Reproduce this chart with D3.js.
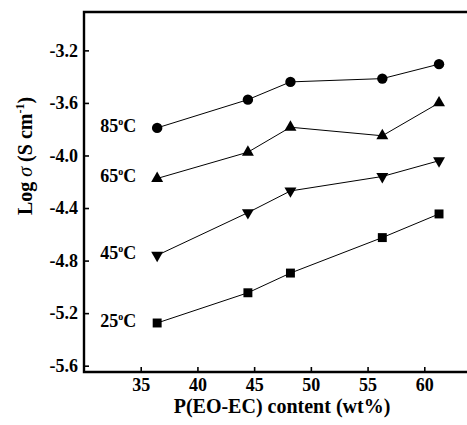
<!DOCTYPE html>
<html>
<head>
<style>
body { margin: 0; background: #fff; }
text { font-family: "Liberation Serif", "Times New Roman", serif; font-weight: bold; }
</style>
</head>
<body>
<svg width="467" height="425"></svg>
<script src="https://d3js.org/d3.v7.min.js"></script>
<script>

// P(EO-EC) content, wt%
let content = [36.45, 44.45, 48.2, 56.3, 61.3];

let temps = ['85', '65', '45', '25'];
let symbols = ['circle', 'triangle', 'down', 'square'];

let logSigma85 = [-3.79, -3.575, -3.44, -3.415, -3.305];
let logSigma65 = [-4.175, -3.975, -3.785, -3.85, -3.60];
let logSigma45 = [-4.76, -4.435, -4.27, -4.16, -4.04];
let logSigma25 = [-5.275, -5.045, -4.895, -4.625, -4.445];

let series = [logSigma85, logSigma65, logSigma45, logSigma25];

let xTicks = [35, 40, 45, 50, 55, 60];
let yTicks = [-3.2, -3.6, -4.0, -4.4, -4.8, -5.2, -5.6];

let pLeft = 84, pTop = 12, pBottom = 372, pRight = 481;

let x = d3.scaleLinear().domain([30, 65]).range([pLeft, pRight]);
let y = d3.scaleLinear().domain([-5.648, -2.908]).range([pBottom, pTop]);

let svg = d3.select('svg');

// frame (top + right edges run off the page)
svg.append('path')
    .attr('d', `M${pLeft},${pBottom}V${pTop}H${pRight}V${pBottom}Z`)
    .attr('fill', 'none')
    .attr('stroke', 'black')
    .attr('stroke-width', 2.4);

let xAxis = svg.append('g')
    .attr('transform', `translate(0,${pBottom})`)
    .call(d3.axisBottom(x).tickValues(xTicks).tickSizeInner(-5).tickSizeOuter(0).tickPadding(6));
xAxis.select('.domain').remove();

let yAxis = svg.append('g')
    .attr('transform', `translate(${pLeft},0)`)
    .call(d3.axisLeft(y).tickValues(yTicks).tickSizeInner(-5).tickSizeOuter(0).tickPadding(6)
        .tickFormat(function(d) { return d.toFixed(1); }));
yAxis.select('.domain').remove();

svg.selectAll('.tick line').attr('stroke-width', 1.6);
svg.selectAll('.tick text')
    .style('font-size', '18px')
    .style('font-family', '"Liberation Serif", serif')
    .style('font-weight', 'bold')
    .attr('fill', 'black');

// lines and markers
let line = d3.line()
    .x(function(d, i) { return x(content[i]); })
    .y(function(d) { return y(d); });

series.forEach(function(vals, k) {
    svg.append('path')
        .datum(vals)
        .attr('d', line)
        .attr('fill', 'none')
        .attr('stroke', 'black')
        .attr('stroke-width', 1);

    let kind = symbols[k];
    let sym = kind == 'circle' ? d3.symbol(d3.symbolCircle, 85)
            : kind == 'square' ? d3.symbol(d3.symbolSquare, 80)
            : d3.symbol(d3.symbolTriangle, 62);

    svg.append('g').selectAll('path')
        .data(vals)
        .join('path')
        .attr('d', sym)
        .attr('fill', 'black')
        .attr('transform', function(d, i) {
            let t = `translate(${x(content[i])},${y(d)})`;
            return kind == 'down' ? t + ' rotate(180)' : t;
        });

    // temperature label
    let lab = svg.append('text')
        .attr('x', x(content[0]) - 21)
        .attr('y', y(vals[0]) + 4)
        .attr('text-anchor', 'end')
        .style('font-size', '18px');
    lab.append('tspan').text(temps[k]);
    lab.append('tspan').attr('dy', -7).style('font-size', '10px').text('o');
    lab.append('tspan').attr('dy', 7).text('C');
});

// axis titles
svg.append('text')
    .attr('x', 282)
    .attr('y', 413)
    .attr('text-anchor', 'middle')
    .style('font-size', '20px')
    .text('P(EO-EC) content (wt%)');

let yt = svg.append('text')
    .attr('transform', 'translate(32,156) rotate(-90)')
    .attr('text-anchor', 'middle')
    .style('font-size', '20px');
yt.append('tspan').text('Log ');
yt.append('tspan').style('font-style', 'italic').style('font-weight', 'normal').text('σ');
yt.append('tspan').text(' (S cm');
yt.append('tspan').attr('dy', -8).style('font-size', '12px').text('-1');
yt.append('tspan').attr('dy', 8).text(')');

</script>
</body>
</html>
